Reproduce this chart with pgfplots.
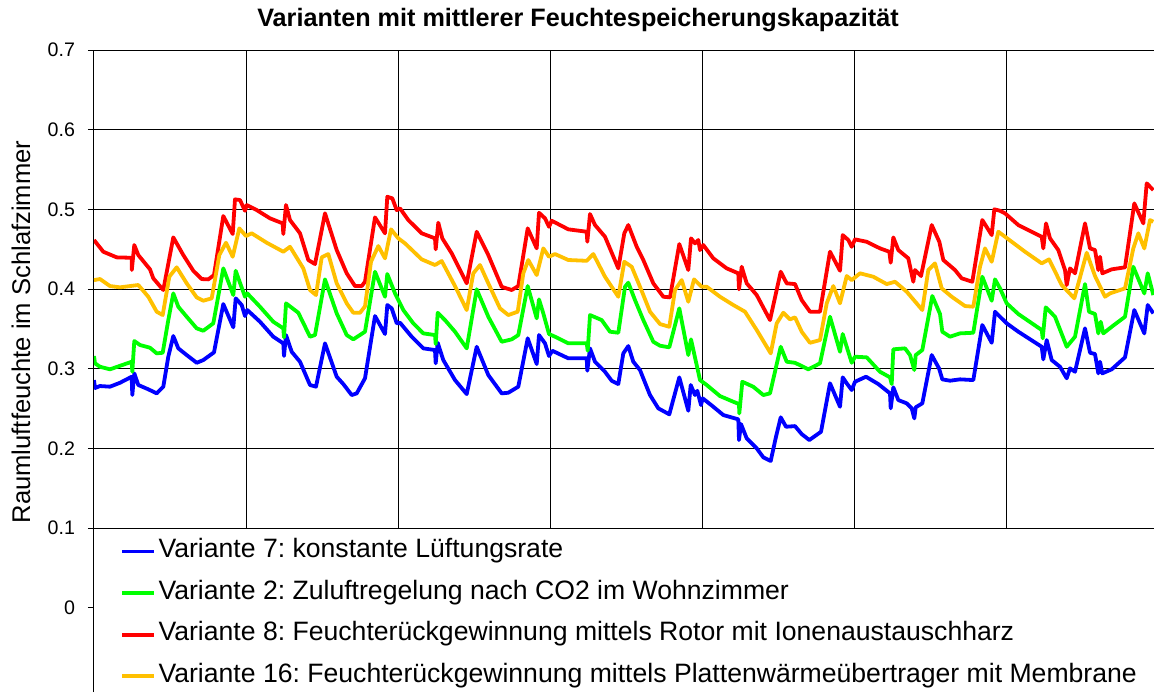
\documentclass[border=0pt]{standalone}
\usepackage{pgfplots}
\pgfplotsset{compat=1.18}
\usepackage{fontspec}
\setmainfont{Liberation Sans}
\frenchspacing
\definecolor{cblue}{RGB}{0,0,255}
\definecolor{cgreen}{RGB}{0,255,0}
\definecolor{cred}{RGB}{255,0,0}
\definecolor{cyellow}{RGB}{255,192,0}
\begin{document}
\begin{tikzpicture}
\begin{axis}[name=main, scale only axis, width=530pt, height=239pt,
  xmin=0, xmax=1060, ymin=0.1, ymax=0.7,
  axis lines=left, axis line style={-, black, line width=0.5pt},
  xtick={152,304,456,608,760,912}, xticklabels={}, x tick style={draw=none},
  ytick={0.1,0.2,0.3,0.4,0.5,0.6,0.7}, yticklabels={0.1,0.2,0.3,0.4,0.5,0.6,0.7},
  tick align=outside, major tick length=3pt, y tick style={black, line width=0.5pt},
  xmajorgrids, ymajorgrids, grid style={black, line width=0.5pt},
  yticklabel style={font=\fontsize{9.8}{11}\selectfont, xshift=-3pt},
  ylabel={Raumluftfeuchte im Schlafzimmer},
  every axis y label/.style={at={(axis description cs:-0.0689,0.41)}, anchor=center, rotate=90, font=\fontsize{12.8}{15}\selectfont},
  title={Varianten mit mittlerer Feuchtespeicherungskapazität},
  every axis title/.style={at={(axis description cs:0.4566,1.0628)}, anchor=center, font=\bfseries\fontsize{12.6}{15}\selectfont},
  legend cell align=left,
  legend image code/.code={\draw[#1] (0pt,0pt) -- (16pt,0pt);},
  legend style={at={(axis description cs:0.0245,0)}, anchor=north west, yshift=-4.3pt, draw=none, fill=none, inner sep=0pt,
    font=\fontsize{13.3}{15}\selectfont, row sep=6.4pt, nodes={inner sep=1.2pt, text height=9pt, text depth=3pt}},
]
\addplot[cblue, line width=1.9pt, line join=round] table {
0 0.2857
1 0.2757
6 0.2782
16 0.2774
26 0.2823
37.7 0.2899
38.3 0.2669
40.3 0.2941
44.3 0.2795
54.3 0.2741
62.7 0.2690
69.3 0.2774
74.3 0.3150
79.3 0.3410
84.3 0.3255
92.7 0.3171
102.7 0.3074
109.3 0.3108
120 0.3205
129.3 0.3811
139.3 0.3519
141.7 0.3883
147.7 0.3799
151 0.3661
153.3 0.3736
166 0.3589
179.3 0.3401
189.3 0.3318
190 0.3159
192 0.3422
197.7 0.3212
206 0.3087
216 0.2795
222 0.2774
231 0.3318
242.7 0.2899
249.3 0.2807
257.7 0.2669
262.7 0.2690
271 0.2879
281 0.3661
291 0.3435
293.3 0.3799
297.7 0.3757
302.7 0.3569
306 0.3577
317.7 0.3401
329.3 0.3255
341 0.3234
341.7 0.3067
343.7 0.3325
349.3 0.3108
361 0.2857
372.7 0.2681
382.7 0.3275
394.3 0.2920
407.7 0.2690
414.3 0.2698
424.3 0.2774
433.7 0.3381
442.7 0.3058
445 0.3422
451 0.3318
455 0.3159
458.3 0.3225
474.3 0.3130
492.7 0.3130
493.3 0.2974
496 0.3255
501 0.3087
511 0.2961
517.7 0.2848
524.3 0.2807
529.3 0.3192
534.3 0.3284
539.3 0.3087
546 0.2983
556 0.2669
564.3 0.2502
575.3 0.2427
585.3 0.2891
594.3 0.2472
596.7 0.2795
601 0.2669
603.3 0.2723
607 0.2543
608.7 0.2628
619.3 0.2522
629.3 0.2418
644.3 0.2364
645 0.2104
647 0.2305
652.7 0.2125
662.7 0.2000
669.3 0.1887
676.7 0.1841
682 0.2146
686.7 0.2389
692 0.2271
701 0.2279
707.7 0.2179
715.3 0.2104
727 0.2208
736 0.2816
746 0.2522
748.7 0.2891
752.7 0.2816
757.7 0.2732
761 0.2836
772 0.2899
784.3 0.2807
796 0.2690
796.7 0.2502
799.3 0.2766
804.3 0.2606
812.7 0.2565
817.7 0.2502
820.3 0.2376
821.7 0.2515
828.3 0.2565
837.7 0.3171
845 0.3004
848.3 0.2866
856 0.2849
866 0.2866
879.3 0.2857
888.3 0.3548
897.7 0.3325
901 0.3715
906 0.3652
912.7 0.3569
924.3 0.3464
947.7 0.3275
949.3 0.3117
952.7 0.3359
957.7 0.3108
966 0.3024
972.7 0.2879
976 0.3004
981 0.2961
991 0.3506
996 0.3200
1001 0.3184
1004.3 0.2941
1006 0.3087
1008.3 0.2941
1017.7 0.2992
1031 0.3142
1040.3 0.3736
1050.3 0.3443
1053.7 0.3799
1059.3 0.3694
};
\addlegendentry{Variante 7: konstante Lüftungsrate}
\addplot[cgreen, line width=1.9pt, line join=round] table {
0 0.3159
1 0.3067
6 0.3024
16 0.2992
37.7 0.3087
38.3 0.2961
40.3 0.3347
46 0.3297
56 0.3263
62.7 0.3192
68.7 0.3200
74.3 0.3610
79.3 0.3945
84.3 0.3777
92.7 0.3652
102.7 0.3506
109.3 0.3476
119.3 0.3569
129.3 0.4259
139.3 0.3924
141.7 0.4229
151 0.3903
153.3 0.3945
166 0.3777
179.3 0.3589
189.3 0.3506
190 0.3393
192 0.3820
204.3 0.3702
216 0.3401
221 0.3422
231 0.4121
242.7 0.3694
252.7 0.3422
259.3 0.3368
271 0.3464
281 0.4217
291 0.3903
293.3 0.4188
301 0.3945
309.3 0.3736
319.3 0.3569
329.3 0.3443
341 0.3422
341.7 0.3309
343.7 0.3702
351 0.3610
361 0.3464
372.7 0.3255
382.7 0.3996
394.3 0.3652
407.7 0.3338
417.7 0.3368
424.3 0.3422
433.7 0.4037
442.7 0.3632
445 0.3870
449.3 0.3694
455 0.3435
461 0.3401
474.3 0.3318
492.7 0.3318
493.7 0.3225
496 0.3673
507.7 0.3610
516 0.3464
524.3 0.3451
531 0.4028
534.3 0.4079
541 0.3861
549.3 0.3610
559.3 0.3338
566 0.3288
575.3 0.3268
585.3 0.3757
594.3 0.3171
597 0.3368
606 0.2857
612.7 0.2795
626 0.2656
639.3 0.2585
645 0.2556
645.3 0.2439
648.3 0.2836
659.3 0.2773
669.3 0.2669
676 0.2690
686.7 0.3275
692.7 0.3087
701 0.3074
714.3 0.2992
726 0.3067
736 0.3652
746 0.3212
748.7 0.3435
757.7 0.3074
761 0.3150
772.7 0.3142
786 0.2961
796 0.2891
797.7 0.2807
799.3 0.3243
811 0.3255
816 0.3171
820.3 0.2983
821.7 0.3171
828.3 0.3234
838.3 0.3912
846 0.3686
848.3 0.3464
856 0.3401
866 0.3443
879.3 0.3451
888.3 0.4154
897.7 0.3853
901 0.4121
906 0.4008
912.7 0.3820
924.3 0.3686
947.7 0.3485
948.7 0.3381
951.7 0.3770
961 0.3652
972.7 0.3275
981 0.3401
991 0.4062
995 0.3715
1001 0.3686
1004.3 0.3443
1006.7 0.3589
1009.3 0.3443
1017.7 0.3526
1031 0.3652
1039.3 0.4279
1050.3 0.3945
1053.7 0.4197
1059.3 0.3924
};
\addlegendentry{Variante 2: Zuluftregelung nach CO2 im Wohnzimmer}
\addplot[cred, line width=1.9pt, line join=round] table {
0 0.4615
9.3 0.4468
22.7 0.4397
37.7 0.4392
37.8 0.4238
40.3 0.4552
44.3 0.4426
56 0.4247
59.3 0.4134
69.3 0.3987
79.3 0.4648
89.3 0.4426
99.3 0.4229
107.7 0.4125
114.3 0.4121
120 0.4175
129.3 0.4916
138.7 0.4690
141 0.5125
146 0.5117
151 0.4982
152.7 0.5054
162.7 0.4991
176 0.4887
188.7 0.4824
189.3 0.4690
192 0.5054
196 0.4866
206 0.4699
214.3 0.4364
221 0.4313
231 0.4950
242.7 0.4489
252.7 0.4197
261 0.4037
267.7 0.4037
271 0.4091
281 0.4899
291 0.4699
293.3 0.5158
298.3 0.5138
302.7 0.4991
306 0.5012
314.3 0.4866
327.7 0.4699
341 0.4636
341.7 0.4498
344.3 0.4832
348.3 0.4636
357.7 0.4448
372.7 0.4071
382.7 0.4719
394.3 0.4426
407.7 0.4028
417.7 0.3987
424.3 0.4037
433.7 0.4761
442.7 0.4510
445 0.4957
451 0.4887
455 0.4781
457.7 0.4857
474.3 0.4749
492.7 0.4719
493.3 0.4593
496 0.4941
501 0.4803
511 0.4656
524.3 0.4259
530.3 0.4699
534.3 0.4803
542.7 0.4530
549.3 0.4364
559.3 0.4071
569.3 0.3903
576 0.3895
585.3 0.4564
594.3 0.4238
597 0.4636
601 0.4573
604.3 0.4615
606 0.4489
609.3 0.4552
619.3 0.4385
632.7 0.4259
644.3 0.4197
645 0.3996
647.7 0.4279
652.7 0.4071
662.7 0.3924
676 0.3610
686.7 0.4217
692.7 0.4071
701 0.4062
707.7 0.3861
716 0.3715
726 0.3715
736 0.4468
746 0.4229
748.7 0.4677
754.3 0.4615
757.7 0.4530
761 0.4623
772.7 0.4593
786 0.4510
795.3 0.4468
796.7 0.4330
799.3 0.4648
804.3 0.4489
814.3 0.4385
819.3 0.4091
821 0.4238
827 0.4163
837.7 0.4803
845.3 0.4593
849.3 0.4364
861 0.4238
867.7 0.4134
878.3 0.4091
888.3 0.4866
897.7 0.4677
900.3 0.5000
906 0.4982
911 0.4950
924.3 0.4803
947.7 0.4656
949.3 0.4510
952 0.4824
956 0.4636
964.3 0.4489
971 0.4238
972.7 0.4050
976 0.4259
981 0.4197
991 0.4824
996 0.4510
1001 0.4489
1004.3 0.4238
1006 0.4405
1008.3 0.4197
1017.7 0.4247
1031 0.4272
1040.3 0.5075
1049.3 0.4824
1052.7 0.5326
1059.3 0.5242
};
\addlegendentry{Variante 8: Feuchterückgewinnung mittels Rotor mit Ionenaustauschharz}
\addplot[cyellow, line width=1.9pt, line join=round] table {
0 0.4112
6 0.4125
16 0.4037
26 0.4021
44.3 0.4050
54.3 0.3903
62.7 0.3715
68.7 0.3673
75.3 0.4154
82.7 0.4272
92.7 0.4071
102.7 0.3895
109.3 0.3853
117.7 0.3883
125.3 0.4426
132 0.4581
138.7 0.4405
145.3 0.4761
152 0.4665
157.7 0.4699
172.7 0.4581
189.3 0.4468
196 0.4530
209.3 0.4259
216 0.3987
222 0.3924
227.7 0.4397
234.3 0.4439
242.7 0.4071
252.7 0.3820
259.3 0.3702
266 0.3702
271 0.3782
277 0.4342
284.3 0.4539
291 0.4385
297 0.4749
304.3 0.4636
311 0.4573
327.7 0.4372
341 0.4301
347.7 0.4351
361 0.4037
372.7 0.3736
379.3 0.4197
386 0.4301
394.3 0.4071
406 0.3757
414.3 0.3673
423.7 0.3715
429.3 0.4197
434.3 0.4364
442.7 0.4175
449.3 0.4510
455 0.4405
461 0.4439
474.3 0.4364
492.7 0.4354
499.3 0.4439
511 0.4154
524.3 0.3903
530.3 0.4342
537.7 0.4279
546 0.4028
556 0.3715
566 0.3560
575.3 0.3526
581 0.3987
587.7 0.4112
594.3 0.3840
600 0.4121
607.7 0.4028
612.7 0.4028
626 0.3903
639.3 0.3799
651 0.3715
662.7 0.3485
676.7 0.3192
682.7 0.3569
689.3 0.3702
696 0.3619
701 0.3644
707.7 0.3464
716 0.3325
726 0.3359
732.7 0.3820
739.3 0.4037
746 0.3820
752.7 0.4163
757.7 0.4112
766 0.4197
779.3 0.4154
792.7 0.4062
801 0.4091
812.7 0.3966
828.3 0.3736
834.3 0.4238
841 0.4322
847.7 0.4008
857.7 0.3903
871 0.3786
879.3 0.3778
886 0.4279
891 0.4510
897.7 0.4342
904.3 0.4719
917.7 0.4593
931 0.4468
947.7 0.4322
955 0.4372
967.7 0.4050
980.3 0.3883
992.7 0.4455
1001 0.4163
1011 0.3903
1016 0.3945
1031 0.4008
1039.3 0.4510
1044.3 0.4699
1050.3 0.4510
1056 0.4866
1059.3 0.4844
};
\addlegendentry{Variante 16: Feuchterückgewinnung mittels Plattenwärmeübertrager mit Membrane}
\end{axis}
\begin{axis}[name=low, at={(main.south west)}, anchor=north west, scale only axis, width=530pt, height=82pt,
  xmin=0, xmax=1060, ymin=-0.1059, ymax=0.1,
  axis x line=none, axis y line=left, axis line style={-, black, line width=0.5pt},
  ytick={0}, yticklabels={0},
  tick align=outside, major tick length=3pt, y tick style={black, line width=0.5pt},
  yticklabel style={font=\fontsize{9.8}{11}\selectfont, xshift=-3pt},
]
\addplot[draw=none] coordinates {(0,0)};
\end{axis}
\pgfresetboundingbox
\path[use as bounding box] ([xshift=-47pt,yshift=25pt]main.north west) rectangle (low.south east);
\end{tikzpicture}
\end{document}
